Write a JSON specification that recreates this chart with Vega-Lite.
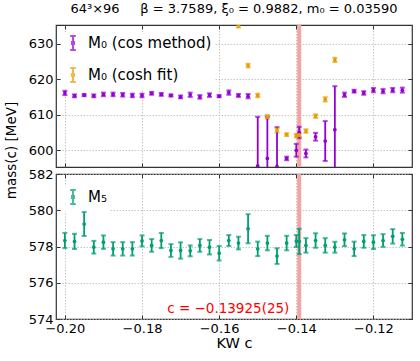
{
 "$schema": "https://vega.github.io/schema/vega-lite/v6.json",
 "padding": {"left": 3, "top": 3, "right": 7, "bottom": 5},
 "title": {"text": "64³×96\u00a0\u00a0\u00a0\u00a0\u00a0β = 3.7589, ξ₀ = 0.9882, m₀ = 0.03590", "fontSize": 13, "fontWeight": "normal", "font": "DejaVu Sans", "offset": 6, "anchor": "middle", "frame": "group", "color": "black"},
 "config": {
  "font": "DejaVu Sans",
  "view": {"stroke": "#333333", "strokeWidth": 1.2},
  "axis": {"labelFontSize": 13, "labelColor": "black", "tickColor": "#333333", "tickSize": -4, "labelPadding": 7, "labelOverlap": false, "labelFlush": false, "grid": true, "gridColor": "#b8b8b8", "gridDash": [1.5, 1.5], "gridWidth": 0.8, "domain": false, "titleFontSize": 14, "titleFontWeight": "normal", "titleColor": "black"},
  "legend": {"title": null, "orient": "none", "padding": 3, "fillColor": "white", "symbolType": "M0,-1V1M-0.4,-1H0.4M-0.4,1H0.4M-0.15,-0.15H0.15V0.15H-0.15Z", "symbolSize": 196, "symbolStrokeWidth": 2, "labelFontSize": 15, "rowPadding": 10, "labelOffset": 7, "labelColor": "black"}
 },
 "datasets": {
  "top": [
   {"c": -0.2, "m": 616.1, "e": 0.6, "s": "M₀ (cos method)"},
   {"c": -0.1975, "m": 615.3, "e": 0.4, "s": "M₀ (cos method)"},
   {"c": -0.195, "m": 615.5, "e": 0.3, "s": "M₀ (cos method)"},
   {"c": -0.1925, "m": 615.3, "e": 0.4, "s": "M₀ (cos method)"},
   {"c": -0.19, "m": 615.7, "e": 0.5, "s": "M₀ (cos method)"},
   {"c": -0.1875, "m": 615.7, "e": 0.5, "s": "M₀ (cos method)"},
   {"c": -0.185, "m": 615.6, "e": 0.5, "s": "M₀ (cos method)"},
   {"c": -0.1825, "m": 615.4, "e": 0.5, "s": "M₀ (cos method)"},
   {"c": -0.18, "m": 615.4, "e": 0.5, "s": "M₀ (cos method)"},
   {"c": -0.1775, "m": 616.0, "e": 0.4, "s": "M₀ (cos method)"},
   {"c": -0.175, "m": 615.7, "e": 0.4, "s": "M₀ (cos method)"},
   {"c": -0.1725, "m": 615.4, "e": 0.3, "s": "M₀ (cos method)"},
   {"c": -0.17, "m": 615.0, "e": 0.4, "s": "M₀ (cos method)"},
   {"c": -0.1675, "m": 615.6, "e": 0.6, "s": "M₀ (cos method)"},
   {"c": -0.165, "m": 615.0, "e": 0.5, "s": "M₀ (cos method)"},
   {"c": -0.1625, "m": 615.5, "e": 0.5, "s": "M₀ (cos method)"},
   {"c": -0.16, "m": 615.2, "e": 0.3, "s": "M₀ (cos method)"},
   {"c": -0.1575, "m": 616.2, "e": 0.6, "s": "M₀ (cos method)"},
   {"c": -0.155, "m": 615.4, "e": 0.4, "s": "M₀ (cos method)"},
   {"c": -0.1525, "m": 615.2, "e": 0.6, "s": "M₀ (cos method)"},
   {"c": -0.15, "m": 595.6, "e": 13.8, "s": "M₀ (cos method)"},
   {"c": -0.1475, "m": 597.7, "e": 11.7, "s": "M₀ (cos method)"},
   {"c": -0.145, "m": 595.5, "e": 11.0, "s": "M₀ (cos method)"},
   {"c": -0.1425, "m": 597.7, "e": 0.5, "s": "M₀ (cos method)"},
   {"c": -0.14, "m": 600.0, "e": 1.8, "s": "M₀ (cos method)"},
   {"c": -0.13925, "m": 605.0, "e": 1.6, "s": "M₀ (cos method)"},
   {"c": -0.1375, "m": 599.1, "e": 1.1, "s": "M₀ (cos method)"},
   {"c": -0.135, "m": 603.8, "e": 1.1, "s": "M₀ (cos method)"},
   {"c": -0.1325, "m": 602.6, "e": 5.6, "s": "M₀ (cos method)"},
   {"c": -0.13, "m": 605.8, "e": 12.2, "s": "M₀ (cos method)"},
   {"c": -0.1275, "m": 615.6, "e": 0.6, "s": "M₀ (cos method)"},
   {"c": -0.125, "m": 616.6, "e": 0.4, "s": "M₀ (cos method)"},
   {"c": -0.1225, "m": 616.1, "e": 0.5, "s": "M₀ (cos method)"},
   {"c": -0.12, "m": 616.9, "e": 0.6, "s": "M₀ (cos method)"},
   {"c": -0.1175, "m": 616.6, "e": 0.6, "s": "M₀ (cos method)"},
   {"c": -0.115, "m": 616.9, "e": 0.6, "s": "M₀ (cos method)"},
   {"c": -0.1125, "m": 616.9, "e": 0.7, "s": "M₀ (cos method)"},
   {"c": -0.155, "m": 635.0, "e": 0.5, "s": "M₀ (cosh fit)"},
   {"c": -0.1525, "m": 623.8, "e": 0.5, "s": "M₀ (cosh fit)"},
   {"c": -0.15, "m": 615.4, "e": 0.5, "s": "M₀ (cosh fit)"},
   {"c": -0.1475, "m": 609.4, "e": 0.5, "s": "M₀ (cosh fit)"},
   {"c": -0.145, "m": 605.6, "e": 0.6, "s": "M₀ (cosh fit)"},
   {"c": -0.1425, "m": 604.4, "e": 0.4, "s": "M₀ (cosh fit)"},
   {"c": -0.14, "m": 604.1, "e": 0.5, "s": "M₀ (cosh fit)"},
   {"c": -0.13925, "m": 604.3, "e": 0.5, "s": "M₀ (cosh fit)"},
   {"c": -0.1375, "m": 605.4, "e": 0.5, "s": "M₀ (cosh fit)"},
   {"c": -0.135, "m": 609.6, "e": 0.5, "s": "M₀ (cosh fit)"},
   {"c": -0.1325, "m": 614.3, "e": 0.6, "s": "M₀ (cosh fit)"},
   {"c": -0.13, "m": 625.4, "e": 0.6, "s": "M₀ (cosh fit)"}
  ],
  "bot": [
   {"c": -0.2, "m": 578.33, "e": 0.42, "s": "M₅"},
   {"c": -0.1975, "m": 578.28, "e": 0.42, "s": "M₅"},
   {"c": -0.195, "m": 579.24, "e": 0.66, "s": "M₅"},
   {"c": -0.1925, "m": 577.96, "e": 0.35, "s": "M₅"},
   {"c": -0.19, "m": 578.24, "e": 0.37, "s": "M₅"},
   {"c": -0.1875, "m": 577.87, "e": 0.37, "s": "M₅"},
   {"c": -0.185, "m": 577.87, "e": 0.37, "s": "M₅"},
   {"c": -0.1825, "m": 577.87, "e": 0.37, "s": "M₅"},
   {"c": -0.18, "m": 578.31, "e": 0.3, "s": "M₅"},
   {"c": -0.1775, "m": 578.06, "e": 0.35, "s": "M₅"},
   {"c": -0.175, "m": 578.33, "e": 0.42, "s": "M₅"},
   {"c": -0.1725, "m": 577.78, "e": 0.35, "s": "M₅"},
   {"c": -0.17, "m": 577.78, "e": 0.45, "s": "M₅"},
   {"c": -0.1675, "m": 577.76, "e": 0.3, "s": "M₅"},
   {"c": -0.165, "m": 578.06, "e": 0.35, "s": "M₅"},
   {"c": -0.1625, "m": 577.96, "e": 0.4, "s": "M₅"},
   {"c": -0.16, "m": 577.63, "e": 0.4, "s": "M₅"},
   {"c": -0.1575, "m": 578.33, "e": 0.3, "s": "M₅"},
   {"c": -0.155, "m": 578.19, "e": 0.35, "s": "M₅"},
   {"c": -0.1525, "m": 578.98, "e": 0.8, "s": "M₅"},
   {"c": -0.15, "m": 577.87, "e": 0.4, "s": "M₅"},
   {"c": -0.1475, "m": 578.19, "e": 0.4, "s": "M₅"},
   {"c": -0.145, "m": 577.47, "e": 0.43, "s": "M₅"},
   {"c": -0.1425, "m": 578.19, "e": 0.4, "s": "M₅"},
   {"c": -0.14, "m": 578.3, "e": 0.33, "s": "M₅"},
   {"c": -0.13925, "m": 578.28, "e": 0.7, "s": "M₅"},
   {"c": -0.1375, "m": 578.06, "e": 0.4, "s": "M₅"},
   {"c": -0.135, "m": 578.33, "e": 0.4, "s": "M₅"},
   {"c": -0.1325, "m": 578.06, "e": 0.4, "s": "M₅"},
   {"c": -0.13, "m": 577.96, "e": 0.3, "s": "M₅"},
   {"c": -0.1275, "m": 578.37, "e": 0.35, "s": "M₅"},
   {"c": -0.125, "m": 577.87, "e": 0.4, "s": "M₅"},
   {"c": -0.1225, "m": 578.28, "e": 0.35, "s": "M₅"},
   {"c": -0.12, "m": 578.24, "e": 0.38, "s": "M₅"},
   {"c": -0.1175, "m": 578.33, "e": 0.35, "s": "M₅"},
   {"c": -0.115, "m": 578.56, "e": 0.4, "s": "M₅"},
   {"c": -0.1125, "m": 578.4, "e": 0.35, "s": "M₅"}
  ],
  "crit": [{"c": -0.13925}]
 },
 "spacing": 7,
 "bounds": "flush",
 "resolve": {"scale": {"color": "independent"}},
 "vconcat": [
  {
   "width": 356, "height": 142,
   "resolve": {"axis": {"x": "independent", "y": "independent"}},
   "layer": [
    {"data": {"name": "crit"}, "mark": {"type": "rule", "color": "#f5a3a3", "strokeWidth": 4},
     "encoding": {"x": {"field": "c", "type": "quantitative", "scale": {"domain": [-0.2023, -0.11], "nice": false, "zero": false}, "axis": {"values": [-0.2, -0.18, -0.16, -0.14, -0.12], "labels": false, "title": null}}}},
    {"data": {"name": "top"}, "mark": {"type": "errorbar", "ticks": {"size": 5, "thickness": 2}, "thickness": 1.8, "clip": true},
     "encoding": {
      "x": {"field": "c", "type": "quantitative", "axis": null},
      "y": {"field": "m", "type": "quantitative", "scale": {"domain": [595.3, 635.2], "nice": false, "zero": false}, "axis": {"values": [600, 610, 620, 630], "title": "mass(c) [MeV]", "titleFontSize": 13.5, "titleY": 125, "titleX": -38, "titleAngle": 270, "titleAlign": "center", "titleBaseline": "bottom"}},
      "yError": {"field": "e"},
      "color": {"field": "s", "type": "nominal", "scale": {"domain": ["M₀ (cos method)", "M₀ (cosh fit)"], "range": ["#9400D3", "#E69F00"]}, "legend": {"legendX": 6, "legendY": 7}}
     }},
    {"data": {"name": "top"}, "mark": {"type": "circle", "size": 14, "opacity": 1, "clip": true},
     "encoding": {
      "x": {"field": "c", "type": "quantitative", "axis": {"orient": "top", "values": [-0.2, -0.18, -0.16, -0.14, -0.12], "labels": false, "grid": false, "title": null}},
      "y": {"field": "m", "type": "quantitative", "axis": {"orient": "right", "values": [600, 610, 620, 630], "labels": false, "grid": false, "title": null}},
      "color": {"field": "s", "type": "nominal"}
     }}
   ]
  },
  {
   "width": 356, "height": 145,
   "resolve": {"axis": {"x": "independent", "y": "independent"}},
   "layer": [
    {"data": {"name": "crit"}, "mark": {"type": "rule", "color": "#f5a3a3", "strokeWidth": 4},
     "encoding": {"x": {"field": "c", "type": "quantitative", "scale": {"domain": [-0.2023, -0.11], "nice": false, "zero": false}, "axis": {"values": [-0.2, -0.18, -0.16, -0.14, -0.12], "format": ".2f", "title": "KW c", "titleFontSize": 14.5, "titlePadding": 1}}}},
    {"data": {"name": "bot"}, "mark": {"type": "errorbar", "ticks": {"size": 5, "thickness": 2}, "thickness": 1.8, "clip": true},
     "encoding": {
      "x": {"field": "c", "type": "quantitative", "axis": null},
      "y": {"field": "m", "type": "quantitative", "scale": {"domain": [574, 582], "nice": false, "zero": false}, "axis": {"values": [574, 576, 578, 580, 582], "title": null}},
      "yError": {"field": "e"},
      "color": {"field": "s", "type": "nominal", "scale": {"domain": ["M₅"], "range": ["#009E73"]}, "legend": {"legendX": 6, "legendY": 12}}
     }},
    {"data": {"name": "bot"}, "mark": {"type": "circle", "size": 14, "opacity": 1, "clip": true},
     "encoding": {
      "x": {"field": "c", "type": "quantitative", "axis": {"orient": "top", "values": [-0.2, -0.18, -0.16, -0.14, -0.12], "labels": false, "grid": false, "title": null}},
      "y": {"field": "m", "type": "quantitative", "axis": {"orient": "right", "values": [574, 576, 578, 580, 582], "labels": false, "grid": false, "title": null}},
      "color": {"field": "s", "type": "nominal"}
     }},
    {"data": {"values": [{}]}, "mark": {"type": "text", "align": "right", "baseline": "alphabetic", "color": "#ff0000", "fontSize": 13.5},
     "encoding": {"x": {"datum": -0.1418, "axis": null}, "y": {"datum": 574.35, "axis": null}, "text": {"value": "c = −0.13925(25)"}}}
   ]
  }
 ]
}
